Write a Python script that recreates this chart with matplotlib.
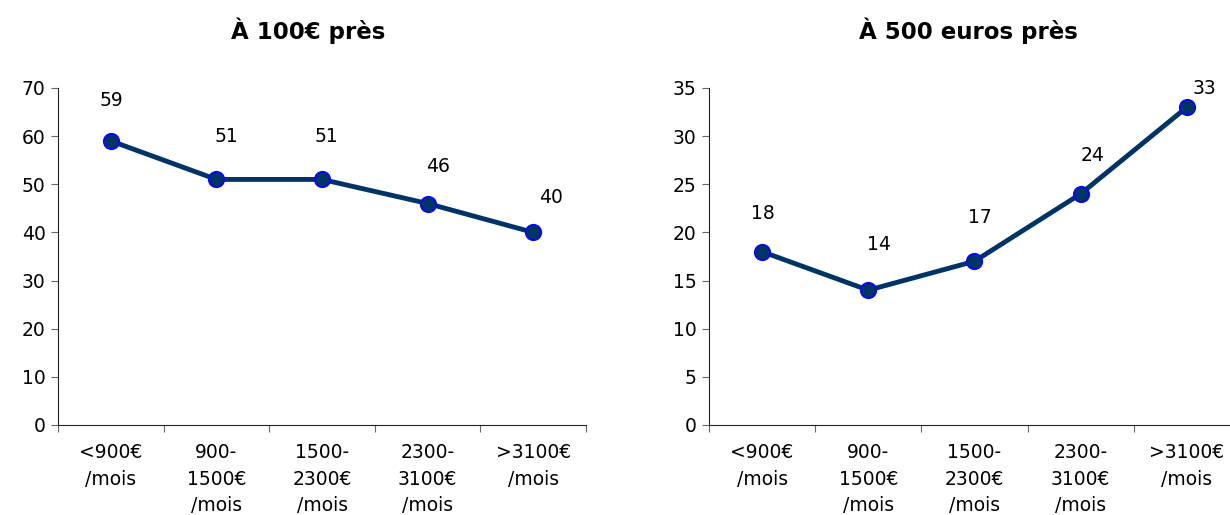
import matplotlib

matplotlib.use("Agg")
import matplotlib.pyplot as plt

CATEGORIES = ["<900€\n/mois", "900-\n1500€\n/mois", "1500-\n2300€\n/mois",
              "2300-\n3100€\n/mois", ">3100€\n/mois"]
VALUES_100 = [59, 51, 51, 46, 40]
VALUES_500 = [18, 14, 17, 24, 33]
TITLE_100 = "À 100€ près"
TITLE_500 = "À 500 euros près"

LINE = "#003366"
EDGE = "#0a0af0"
FS = 13.5

plt.rcParams["font.family"] = ["DejaVu Sans"]

fig = plt.figure(figsize=(12.3, 5.15), dpi=100)
ax1 = fig.add_axes([0.0472, 0.1748, 0.4293, 0.6544])
ax2 = fig.add_axes([0.5764, 0.1748, 0.4317, 0.6544])


def draw(ax, vals, ymax, step, dx, dy):
    x = range(1, len(vals) + 1)
    ax.plot(x, vals, "-o", color=LINE, linewidth=3.5, markersize=11,
            markerfacecolor=LINE, markeredgecolor=EDGE, markeredgewidth=1.4,
            clip_on=False, zorder=3)
    # label offsets given in pixels (dpi 100) -> points
    for xi, v, a, b in zip(x, vals, dx, dy):
        ax.annotate(str(v), (xi, v), xytext=(a * 0.72, b * 0.72), textcoords="offset points",
                    ha="center", va="center", fontsize=FS)
    ax.set_xlim(0.5, len(vals) + 0.5)
    ax.set_ylim(0, ymax)
    ax.set_yticks(range(0, ymax + 1, step))
    ax.set_xticks(list(x))
    ax.set_xticklabels(CATEGORIES, fontsize=FS, linespacing=1.5, va="top")
    ax.set_xticks([i + 0.5 for i in range(0, len(vals) + 1)], minor=True)
    ax.tick_params(axis="x", which="major", length=0, pad=13)
    ax.tick_params(axis="x", which="minor", length=5, width=0.8, color="#666666")
    ax.tick_params(axis="y", length=5, width=0.8, color="#666666", labelsize=FS, pad=4)
    ax.spines[["top", "right"]].set_visible(False)
    for s in ("left", "bottom"):
        ax.spines[s].set_linewidth(0.8)
        ax.spines[s].set_color("#222222")


draw(ax1, VALUES_100, 70, 10, [1, 10, 4, 10, 18], [40, 43, 43, 37, 35])
draw(ax2, VALUES_500, 35, 5, [1, 11, 5, 12, 18], [38, 46, 44, 38, 19])

fig.text(0.2504, 0.94, TITLE_100, ha="center", va="center", fontsize=16.5, fontweight="bold")
fig.text(0.787, 0.94, TITLE_500, ha="center", va="center", fontsize=16.5, fontweight="bold")

fig.savefig("out.png", dpi=100)
